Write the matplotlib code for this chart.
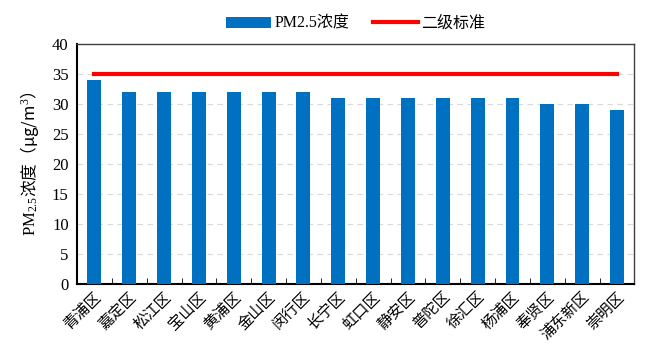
import numpy as np
import matplotlib
matplotlib.use("Agg")
import matplotlib.pyplot as plt

plt.rcParams['font.family'] = ['Liberation Serif', 'Noto Sans CJK SC']
plt.rcParams['mathtext.fontset'] = 'custom'
plt.rcParams['mathtext.rm'] = 'Liberation Serif'
plt.rcParams['mathtext.it'] = 'Liberation Serif:italic'
plt.rcParams['mathtext.sf'] = 'Noto Sans CJK SC'

districts = ['青浦区', '嘉定区', '松江区', '宝山区', '黄浦区', '金山区', '闵行区', '长宁区',
             '虹口区', '静安区', '普陀区', '徐汇区', '杨浦区', '奉贤区', '浦东新区', '崇明区']
pm25 = [34, 32, 32, 32, 32, 32, 32, 31, 31, 31, 31, 31, 31, 30, 30, 29]
standard = 35

fig = plt.figure(figsize=(6.66, 3.57), dpi=100)
ax = fig.add_axes([0.1156, 0.204, 0.837, 0.673])

x = np.arange(len(districts))
bars = ax.bar(x, pm25, width=0.4, color='#0070C0', label='PM2.5浓度', zorder=3)
line, = ax.plot(x, [standard] * len(x), color='#FF0000', lw=3, label='二级标准', zorder=4)

ax.set_xlim(-0.5, len(x) - 0.5)
ax.set_ylim(0, 40)
ax.set_yticks(range(0, 41, 5))
ax.yaxis.grid(True, ls=(0, (5, 4)), color='#D9D9D9', lw=0.8, zorder=0)

ax.set_xticks(x)
ax.set_xticklabels(districts, rotation=45, ha='right', rotation_mode='anchor', fontsize=11)
ax.tick_params(axis='x', which='major', length=0, pad=4)
ax.set_xticks(np.arange(-0.5, len(x), 1), minor=True)
ax.tick_params(axis='x', which='minor', direction='in', length=4)
ax.tick_params(axis='y', length=0, labelsize=12, pad=6)

for s in ax.spines.values():
    s.set_linewidth(1)
    s.set_color('#404040')
ax.spines['left'].set_color('black')
ax.spines['bottom'].set_color('black')
ax.spines['left'].set_linewidth(1.5)
ax.spines['bottom'].set_linewidth(1.5)

ax.set_ylabel(r'$\mathrm{PM}_{2.5}\mathsf{浓度（μg/m}^{3}\mathsf{）}$', fontsize=12, labelpad=8)

ax.legend([bars, line], ['PM2.5浓度', '二级标准'], loc='lower center',
          bbox_to_anchor=(0.5, 0.99), ncol=2, frameon=False,
          fontsize=11.5, handlelength=2.8, columnspacing=1.5, handletextpad=0.2)

fig.savefig('out.png', dpi=100)
